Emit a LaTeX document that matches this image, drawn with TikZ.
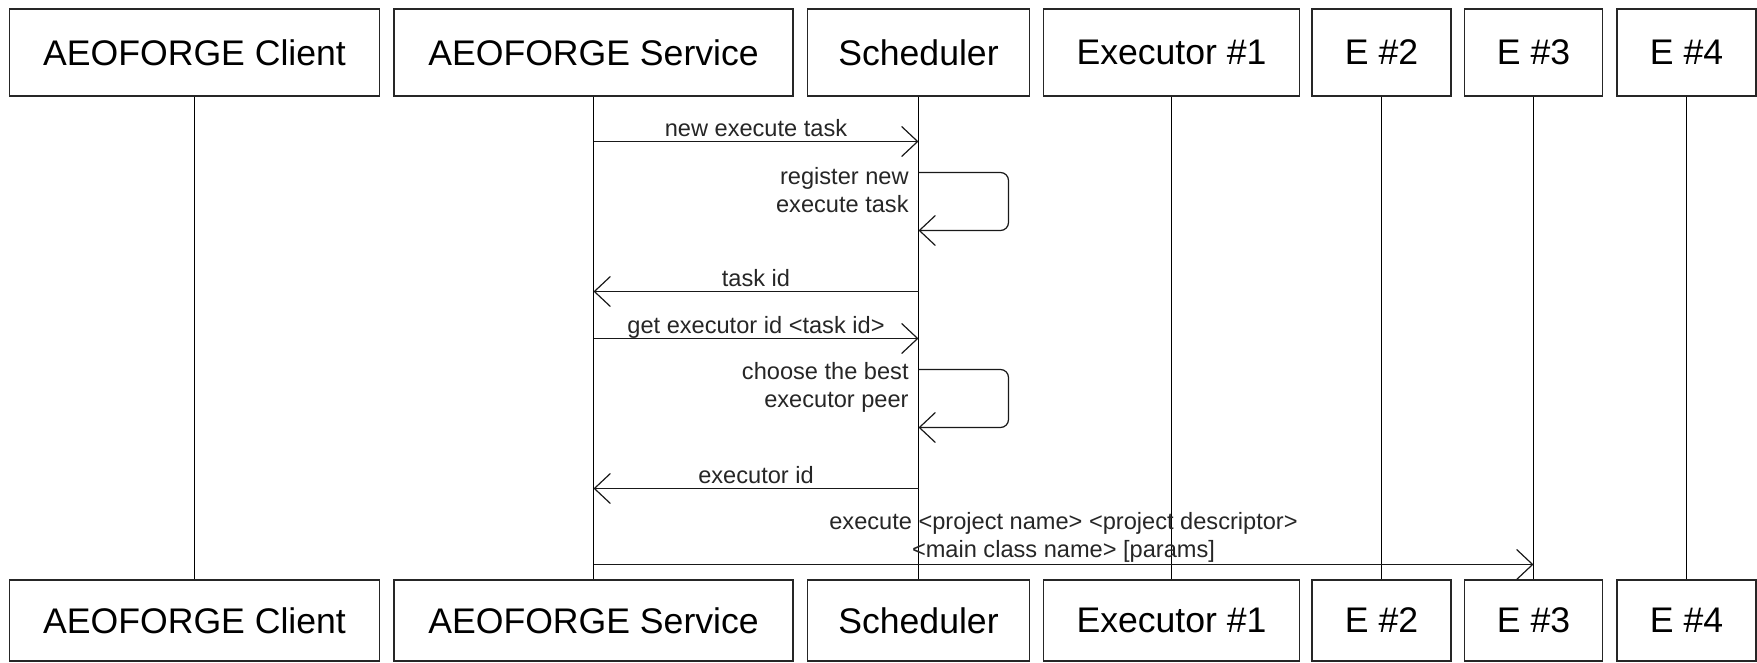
\documentclass[tikz,border=0pt]{standalone}
\usepackage{fontspec}
\setmainfont{Liberation Sans}
\usetikzlibrary{arrows.meta}
\begin{document}
\begin{tikzpicture}[x=0.5pt,y=-0.5pt,
  actor/.style={draw=black!85, line width=0.7pt, inner sep=0pt, minimum height=#1,
    font=\fontsize{17.8}{21}\selectfont},
  life/.style={draw=black, line width=0.55pt},
  msg/.style={draw=black!90, line width=0.6pt, -{Straight Barb[length=8pt,width=15pt]}},
  lbl/.style={font=\fontsize{11.8}{14}\selectfont, text=black!85, inner sep=0pt, anchor=base, yshift=2.5pt},
  lbl2/.style={font=\fontsize{11.8}{14}\selectfont, text=black!85, inner sep=0pt, align=right, anchor=east}
]
\useasboundingbox (0,0) rectangle (1757,663);
% top boxes
\node[actor=43.5pt, minimum width=185pt]   (t1) at (194.5,52.5)  {AEOFORGE Client};
\node[actor=43.5pt, minimum width=199.5pt] (t2) at (593.5,52.5)  {AEOFORGE Service};
\node[actor=43.5pt, minimum width=111pt]   (t3) at (918.5,52.5)  {Scheduler};
\node[actor=43.5pt, minimum width=128pt]   (t4) at (1171.5,52.5) {Executor \#1};
\node[actor=43.5pt, minimum width=69.5pt]  (t5) at (1381.5,52.5) {E \#2};
\node[actor=43.5pt, minimum width=69pt]    (t6) at (1533.5,52.5) {E \#3};
\node[actor=43.5pt, minimum width=69.5pt]  (t7) at (1686.5,52.5) {E \#4};
% bottom boxes
\node[actor=40.5pt, minimum width=185pt]   (b1) at (194.5,620.5)  {AEOFORGE Client};
\node[actor=40.5pt, minimum width=199.5pt] (b2) at (593.5,620.5)  {AEOFORGE Service};
\node[actor=40.5pt, minimum width=111pt]   (b3) at (918.5,620.5)  {Scheduler};
\node[actor=40.5pt, minimum width=128pt]   (b4) at (1171.5,620.5) {Executor \#1};
\node[actor=40.5pt, minimum width=69.5pt]  (b5) at (1381.5,620.5) {E \#2};
\node[actor=40.5pt, minimum width=69pt]    (b6) at (1533.5,620.5) {E \#3};
\node[actor=40.5pt, minimum width=69.5pt]  (b7) at (1686.5,620.5) {E \#4};
% lifelines
\foreach \i in {1,...,7} { \draw[life] (t\i.south) -- (b\i.north); }
% message end points
\coordinate (s1) at (593.5,141.5); \coordinate (c1) at (918.5,141.5);
\coordinate (c2a) at (918.5,172.5);  \coordinate (c2b) at (918.5,230.5);
\coordinate (c3) at (918.5,291.5);   \coordinate (s3) at (593.5,291.5);
\coordinate (s4) at (593.5,338.5); \coordinate (c4) at (918.5,338.5);
\coordinate (c5a) at (918.5,369.5);  \coordinate (c5b) at (918.5,427.5);
\coordinate (c6) at (918.5,488.5);   \coordinate (s6) at (593.5,488.5);
\coordinate (s7) at (593.5,564.5); \coordinate (e7) at (1533.5,564.5);
% messages
\draw[msg] (s1) -- node[lbl] (l1) {new execute task} (c1);
\draw[msg, rounded corners=4pt] (c2a) -- ++(90,0) |- (c2b);
\node[lbl2] (l2) at (909,190) {register new\\execute task};
\draw[msg] (c3) -- node[lbl] (l3) {task id} (s3);
\draw[msg] (s4) -- node[lbl] (l4) {get executor id <task id>} (c4);
\draw[msg, rounded corners=4pt] (c5a) -- ++(90,0) |- (c5b);
\node[lbl2] (l5) at (909,387) {choose the best\\executor peer};
\draw[msg] (c6) -- node[lbl] (l6) {executor id} (s6);
\draw[msg] (s7) -- node[font=\fontsize{11.8}{14}\selectfont, text=black!85, inner sep=0pt, align=center, anchor=south, yshift=1pt] (l7) {execute <project name> <project descriptor>\\<main class name> [params]} (e7);
\end{tikzpicture}
\end{document}
